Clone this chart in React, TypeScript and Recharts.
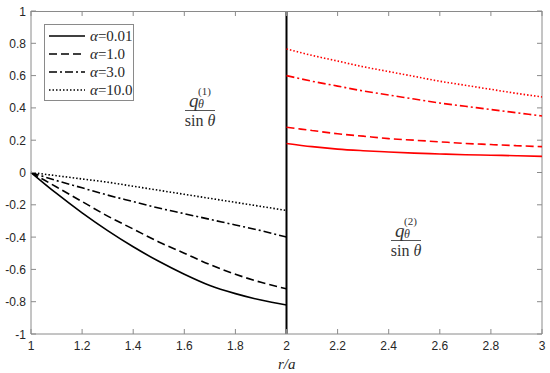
import { LineChart, Line, XAxis, YAxis, ReferenceLine } from "recharts";

const xLeft = [1, 1.1, 1.2, 1.3, 1.4, 1.5, 1.6, 1.7, 1.8, 1.9, 2];
const xRight = [2, 2.1, 2.2, 2.3, 2.4, 2.5, 2.6, 2.7, 2.8, 2.9, 3];

const leftA001 = [0, -0.13, -0.25, -0.36, -0.46, -0.55, -0.63, -0.7, -0.75, -0.79, -0.82];
const leftA1 = [0, -0.09, -0.18, -0.27, -0.35, -0.43, -0.5, -0.57, -0.63, -0.68, -0.72];
const leftA3 = [0, -0.05, -0.095, -0.14, -0.18, -0.22, -0.255, -0.29, -0.325, -0.36, -0.4];
const leftA10 = [0, -0.02, -0.04, -0.06, -0.085, -0.11, -0.135, -0.16, -0.185, -0.21, -0.235];

const rightA001 = [0.18, 0.16, 0.145, 0.135, 0.127, 0.12, 0.115, 0.11, 0.107, 0.104, 0.1];
const rightA1 = [0.28, 0.26, 0.24, 0.225, 0.21, 0.2, 0.19, 0.18, 0.173, 0.166, 0.16];
const rightA3 = [0.6, 0.565, 0.535, 0.505, 0.48, 0.455, 0.43, 0.41, 0.39, 0.37, 0.35];
const rightA10 = [0.765, 0.725, 0.69, 0.655, 0.625, 0.595, 0.565, 0.54, 0.515, 0.49, 0.468];

const alphaLabels = ["0.01", "1.0", "3.0", "10.0"];
const xTicks = [1, 1.2, 1.4, 1.6, 1.8, 2, 2.2, 2.4, 2.6, 2.8, 3];
const yTicks = [-1, -0.8, -0.6, -0.4, -0.2, 0, 0.2, 0.4, 0.6, 0.8, 1];

const DASHES = [undefined, "8 4", "8 3 2 3", "1.5 2"];
const AXIS = "#8a8a8a";
const TEXT = "#262626";
const SERIF = "'Liberation Serif', 'Times New Roman', serif";
const SANS = "'Liberation Sans', Arial, sans-serif";

const W = 550;
const H = 373;
const TOP = 11;
const RIGHT = 8;
const X_H = 39;
const Y_W = 31;
const PLOT_BOTTOM = H - X_H;
const PLOT_RIGHT = W - RIGHT;
const TICK = 5;

function toRows(xs: number[], ys: number[]) {
  return xs.map((x, i) => ({ x, y: ys[i] }));
}

const leftSeries = [leftA001, leftA1, leftA3, leftA10].map((s) => toRows(xLeft, s));
const rightSeries = [rightA001, rightA1, rightA3, rightA10].map((s) => toRows(xRight, s));

function fmt(v: number) {
  return String(Math.round(v * 10) / 10);
}

// label plus inward tick marks on both opposite sides of the box
function XTick({ x, payload }: any) {
  return (
    <g>
      <line x1={x} y1={PLOT_BOTTOM} x2={x} y2={PLOT_BOTTOM - TICK} stroke={AXIS} />
      <line x1={x} y1={TOP} x2={x} y2={TOP + TICK} stroke={AXIS} />
      <text x={x} y={PLOT_BOTTOM + 16} textAnchor="middle" fill={TEXT} fontSize={12} fontFamily={SANS}>
        {fmt(payload.value)}
      </text>
    </g>
  );
}

function YTick({ y, payload }: any) {
  return (
    <g>
      <line x1={Y_W} y1={y} x2={Y_W + TICK} y2={y} stroke={AXIS} />
      <line x1={PLOT_RIGHT} y1={y} x2={PLOT_RIGHT - TICK} y2={y} stroke={AXIS} />
      <text x={Y_W - 5} y={y + 4.5} textAnchor="end" fill={TEXT} fontSize={12} fontFamily={SANS}>
        {fmt(payload.value)}
      </text>
    </g>
  );
}

function LegendBox() {
  return (
    <div
      style={{
        position: "absolute",
        left: 44,
        top: 24,
        border: `1px solid ${AXIS}`,
        background: "#fff",
        padding: "2px 0 2px 4px",
        width: 90,
        boxSizing: "border-box",
        height: 77,
      }}
    >
      {alphaLabels.map((a, i) => (
        <div key={a} style={{ display: "flex", alignItems: "center", height: 18 }}>
          <svg width={36} height={6} style={{ marginRight: 5 }}>
            <line x1={0} y1={3} x2={36} y2={3} stroke="#000" strokeWidth={1.6} strokeDasharray={DASHES[i]} />
          </svg>
          <span style={{ fontFamily: SERIF, fontSize: 15, color: TEXT, whiteSpace: "nowrap" }}>
            <i>α</i>={a}
          </span>
        </div>
      ))}
    </div>
  );
}

function Fraction({ cx, barY, n }: { cx: number; barY: number; n: number }) {
  return (
    <div
      style={{
        position: "absolute",
        left: cx - 20,
        top: barY - 25,
        width: 40,
        textAlign: "center",
        fontFamily: SERIF,
        color: "#333",
        lineHeight: 1,
      }}
    >
      <div style={{ height: 24, position: "relative" }}>
        <span style={{ position: "absolute", left: 9, top: 5, fontStyle: "italic", fontSize: 19 }}>q</span>
        <span style={{ position: "absolute", left: 18, top: 12, fontStyle: "italic", fontSize: 12 }}>θ</span>
        <span style={{ position: "absolute", left: 18, top: 0, fontSize: 11 }}>({n})</span>
      </div>
      <div style={{ borderTop: "1.5px solid #555", width: 30, margin: "0 auto" }} />
      <div style={{ fontSize: 16, marginTop: 2 }}>
        sin <i>θ</i>
      </div>
    </div>
  );
}

export default function App() {
  return (
    <div style={{ position: "absolute", left: 0, top: 0, width: W, height: H, background: "#fff" }}>
      <LineChart width={W} height={H} margin={{ top: TOP, right: RIGHT, bottom: 0, left: 0 }}>
        <XAxis
          dataKey="x"
          type="number"
          domain={[1, 3]}
          ticks={xTicks}
          allowDuplicatedCategory={false}
          height={X_H}
          tickLine={false}
          axisLine={{ stroke: AXIS }}
          tick={<XTick />}
        />
        <YAxis
          type="number"
          domain={[-1, 1]}
          ticks={yTicks}
          width={Y_W}
          tickLine={false}
          axisLine={{ stroke: AXIS }}
          tick={<YTick />}
        />
        <ReferenceLine x={3} stroke={AXIS} ifOverflow="visible" />
        <ReferenceLine x={2} stroke="#000" strokeWidth={2} />
        {leftSeries.map((d, i) => (
          <Line
            key={"l" + i}
            data={d}
            dataKey="y"
            type="monotone"
            stroke="#000"
            strokeWidth={1.6}
            strokeDasharray={DASHES[i]}
            dot={false}
            activeDot={false}
            isAnimationActive={false}
          />
        ))}
        {rightSeries.map((d, i) => (
          <Line
            key={"r" + i}
            data={d}
            dataKey="y"
            type="monotone"
            stroke="#ff0000"
            strokeWidth={1.6}
            strokeDasharray={DASHES[i]}
            dot={false}
            activeDot={false}
            isAnimationActive={false}
          />
        ))}
      </LineChart>
      {/* top edge of the axes box */}
      <div style={{ position: "absolute", left: Y_W, top: TOP, width: PLOT_RIGHT - Y_W, height: 1, background: AXIS }} />
      <LegendBox />
      <Fraction cx={200} barY={111} n={1} />
      <Fraction cx={406} barY={241} n={2} />
      <div
        style={{
          position: "absolute",
          left: 278,
          top: 356,
          fontFamily: SERIF,
          fontStyle: "italic",
          fontSize: 15,
          color: TEXT,
        }}
      >
        r/a
      </div>
    </div>
  );
}
